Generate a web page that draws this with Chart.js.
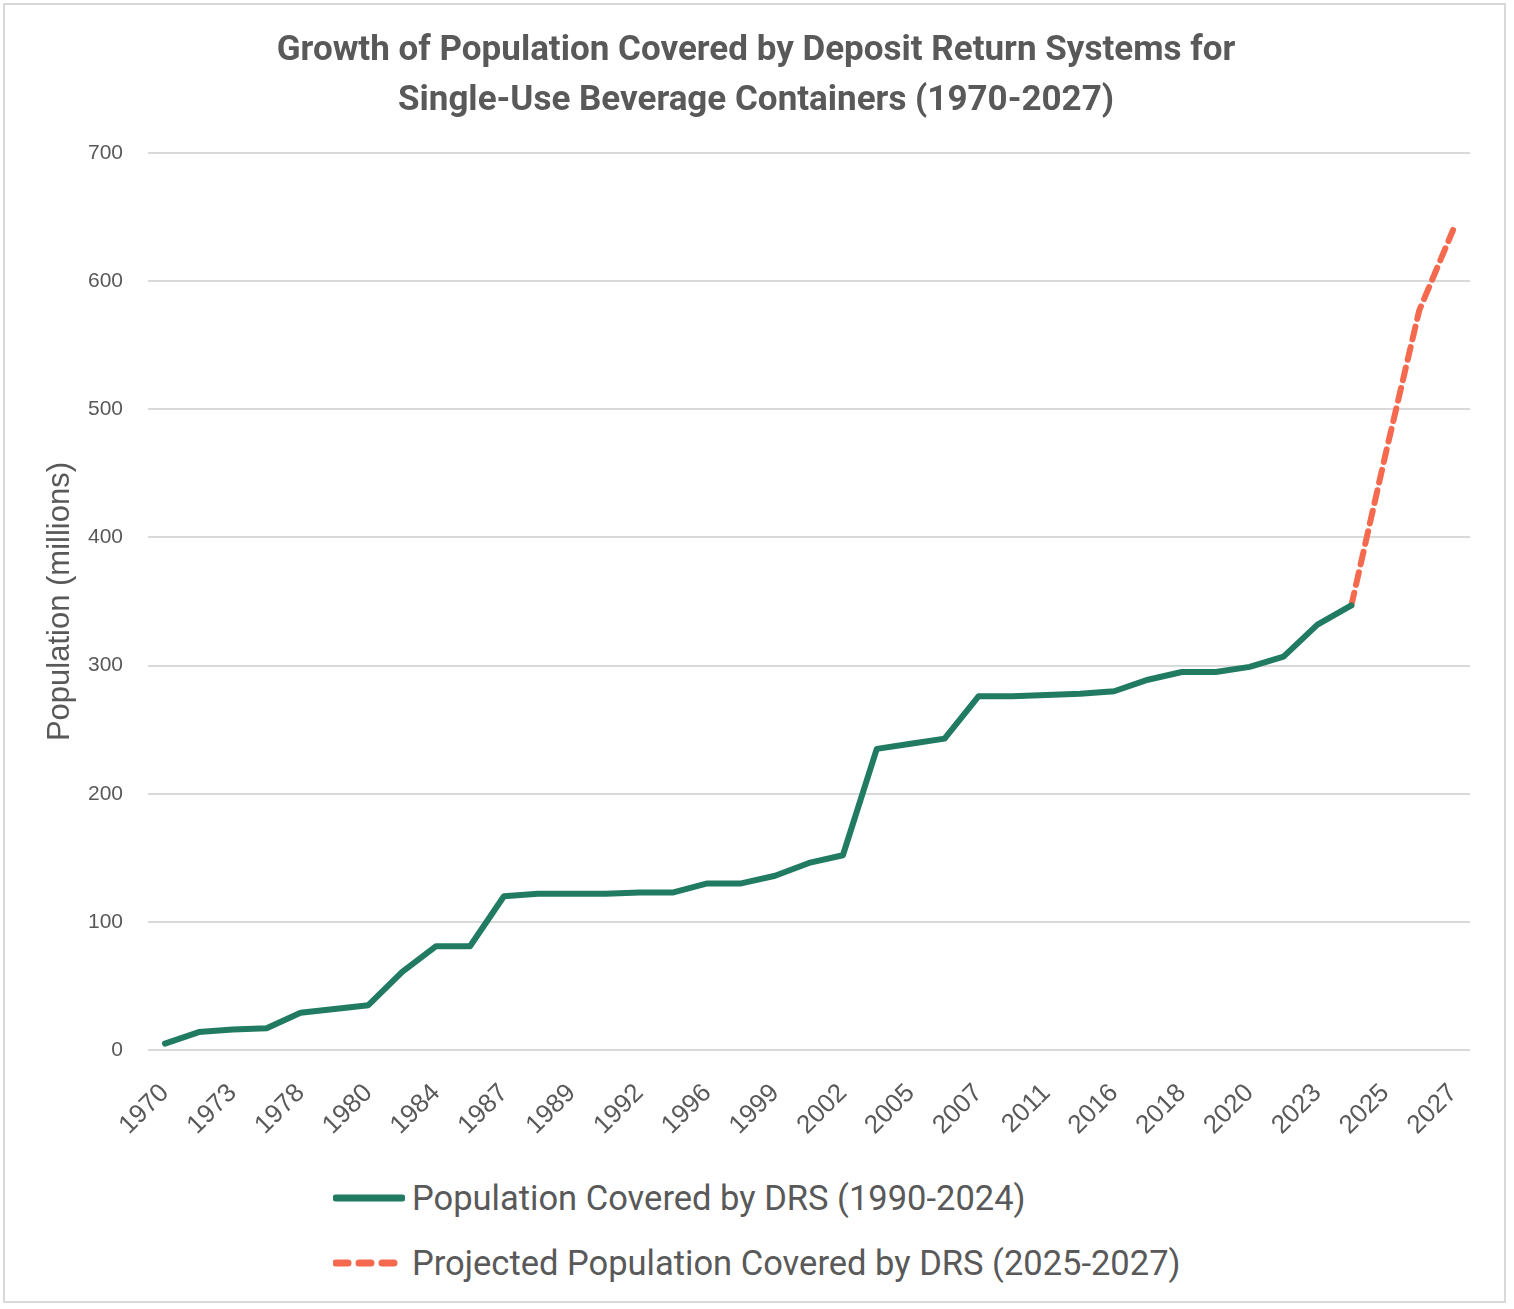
<!DOCTYPE html>
<html>
<head>
<meta charset="utf-8">
<script src="https://cdn.jsdelivr.net/npm/chart.js@4/dist/chart.umd.min.js"></script>
<style>
  html, body { margin: 0; padding: 0; background: #fff; }
  #frame { position: relative; width: 1514px; height: 1309px; overflow: hidden; }
  #border { position: absolute; left: 3px; top: 3px; width: 1503px; height: 1300px; border: 2px solid #d9d9d9; box-sizing: border-box; }
  #wrap { position: absolute; left: 0; top: 0; width: 1514px; height: 1160px; }
  #legend { position: absolute; left: 333px; top: 1165px; font-family: Roboto, "Noto Sans", sans-serif; font-size: 34.5px; color: #595959; }
  .item { display: flex; align-items: center; height: 65px; }
  .item svg { margin-right: 7px; }
</style>
</head>
<body>
<div id="frame">
  <div id="border"></div>
  <div id="wrap"><canvas id="drs-chart"></canvas></div>
  <div id="legend">
    <div class="item">
      <svg width="72" height="12"><line x1="3" y1="6" x2="69" y2="6" stroke="#217a62" stroke-width="7" stroke-linecap="round"/></svg>
      <span>Population Covered by DRS (1990-2024)</span>
    </div>
    <div class="item">
      <svg width="72" height="12"><line x1="3" y1="6" x2="66" y2="6" stroke="#f56a4f" stroke-width="7" stroke-linecap="round" stroke-dasharray="12 11"/></svg>
      <span>Projected Population Covered by DRS (2025-2027)</span>
    </div>
  </div>
</div>

<script>
// years on the x axis (only every other one is labelled in the chart)
var years = ['1970','1971','1973','1975','1978','1979','1980','1982','1984','1985',
             '1987','1988','1989','1990','1992','1994','1996','1997','1999','2000',
             '2002','2003','2005','2006','2007','2010','2011','2015','2016','2017',
             '2018','2019','2020','2022','2023','2024','2025','2026','2027'];

// population covered, millions
var covered = [5, 14, 16, 17, 29, 32, 35, 61, 81, 81,
               120, 122, 122, 122, 123, 123, 130, 130, 136, 146,
               152, 235, 239, 243, 276, 276, 277, 278, 280, 289,
               295, 295, 299, 307, 332, 347, null, null, null];

// projection, starts from the 2024 value
var projected = [null, null, null, null, null, null, null, null, null, null,
                 null, null, null, null, null, null, null, null, null, null,
                 null, null, null, null, null, null, null, null, null, null,
                 null, null, null, null, null, 347, 464, 577, 640];

var yTicks = { min: 0, max: 700, step: 100 };

document.addEventListener("DOMContentLoaded", function(){
  createChart();
});

function createChart(){
  var ctx = document.getElementById('drs-chart').getContext('2d');
  var grey = '#595959';
  new Chart(ctx, {
    type: 'line',
    data: {
      labels: years,
      datasets: [
        {
          label: 'Population Covered by DRS (1990-2024)',
          data: covered,
          borderColor: '#217a62',
          borderWidth: 6,
          pointRadius: 0,
          tension: 0,
          borderJoinStyle: 'round',
          borderCapStyle: 'round'
        },
        {
          label: 'Projected Population Covered by DRS (2025-2027)',
          data: projected,
          borderColor: '#f56a4f',
          borderWidth: 6,
          borderDash: [13, 8],
          borderCapStyle: 'round',
          pointRadius: 0,
          tension: 0
        }
      ]
    },
    options: {
      responsive: true,
      maintainAspectRatio: false,
      animation: false,
      layout: { padding: { left: 42, right: 44, top: 0, bottom: 0 } },
      plugins: {
        legend: { display: false },
        tooltip: { enabled: false },
        title: {
          display: true,
          text: ['Growth of Population Covered by Deposit Return Systems for',
                 'Single-Use Beverage Containers (1970-2027)'],
          color: grey,
          font: { family: 'Roboto', size: 35, weight: 'bold', lineHeight: 1.43 },
          padding: { top: 26, bottom: 27 }
        }
      },
      scales: {
        x: {
          offset: true,
          grid: { display: false },
          border: { display: false },
          ticks: {
            autoSkip: false,
            minRotation: 45,
            maxRotation: 45,
            padding: 20,
            color: grey,
            font: { family: 'Liberation Sans', size: 26 },
            callback: function(value, index){
              return index % 2 === 0 ? years[index] : '';
            }
          },
          afterFit: function(scale){ scale.height = 110; }
        },
        y: {
          min: yTicks.min,
          max: yTicks.max,
          border: { display: false },
          grid: { color: '#d9d9d9', lineWidth: 2, drawTicks: false },
          ticks: {
            stepSize: yTicks.step,
            padding: 25,
            color: grey,
            font: { family: 'Liberation Sans', size: 21 }
          },
          title: {
            display: true,
            text: 'Population (millions)',
            color: grey,
            font: { family: 'Liberation Sans', size: 31 },
            padding: 0
          },
          afterFit: function(scale){ scale.width = 106; }
        }
      }
    }
  });
}
</script>
</body>
</html>
